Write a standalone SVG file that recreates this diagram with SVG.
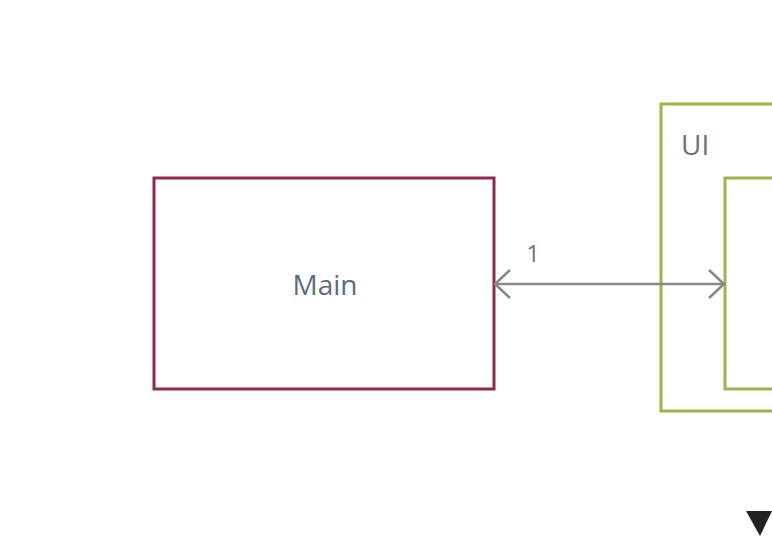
<svg xmlns="http://www.w3.org/2000/svg" width="772" height="540" viewBox="0 0 772 540">
<style>
.lbl{font-family:"Open Sans","Noto Sans",sans-serif;fill:#5d6b7e}
.edge{stroke:#888;stroke-width:2.5;fill:none}
.small{font-family:"Open Sans","Noto Sans",sans-serif;fill:#707070}
</style>
<rect width="772" height="540" fill="#fff"/>
<g id="ui">
<rect x="661" y="104" width="140" height="307" fill="none" stroke="#9bb54a" stroke-width="3"/>
<text x="681" y="155" class="small" font-size="28">UI</text>
</g>
<g id="ui-inner">
<rect x="725" y="178" width="80" height="211" fill="none" stroke="#9bb54a" stroke-width="3"/>
</g>
<g id="main">
<rect x="154" y="178" width="340" height="211" fill="#fff" stroke="#8e2a4e" stroke-width="3"/>
<text x="325" y="295" text-anchor="middle" class="lbl" font-size="28">Main</text>
</g>
<g id="connectors">
<line x1="495" y1="284" x2="724" y2="284" class="edge"/>
<polyline points="510,270 495,284 510,298" class="edge"/>
<polyline points="709,270 724,284 709,298" class="edge"/>
<text x="533" y="262" class="small" font-size="24" text-anchor="middle">1</text>
</g>
<polygon points="746,511 772,511 760,536" fill="#222"/>
</svg>
